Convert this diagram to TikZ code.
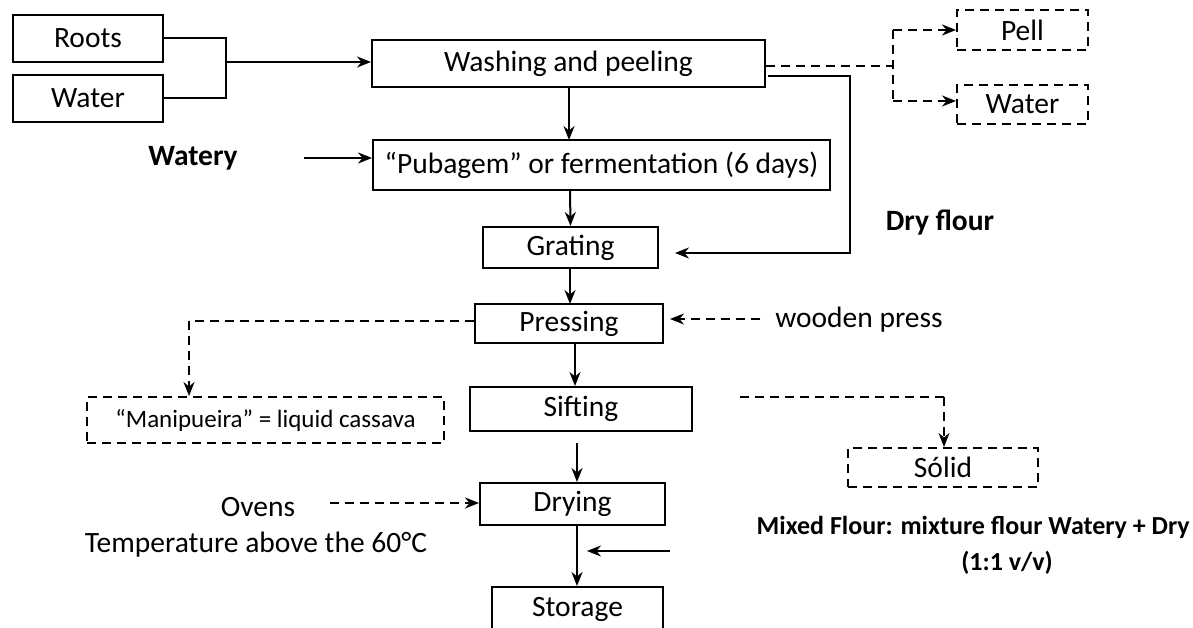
\documentclass[tikz,border=0pt]{standalone}
\usepackage{fontspec}
\setmainfont{Carlito}
\usetikzlibrary{arrows.meta}
\begin{document}
\begin{tikzpicture}[x=1pt,y=-1pt,
  box/.style={draw,line width=2pt,inner sep=0pt,font=\fontsize{29.5}{34}\selectfont},
  dbox/.style={box,dashed,dash pattern=on 9pt off 6pt},
  lbl/.style={inner sep=0pt,font=\fontsize{29.5}{34}\selectfont},
  blbl/.style={lbl,font=\fontsize{29.5}{34}\selectfont\bfseries},
  mlbl/.style={lbl,font=\fontsize{26}{31}\selectfont\bfseries},
  arr/.style={line width=2pt,-{Stealth[length=14pt,width=11pt]}},
  darr/.style={arr,dash pattern=on 9pt off 6pt},
  ln/.style={line width=2pt},
  dln/.style={line width=2pt,dash pattern=on 9pt off 6pt}]
\useasboundingbox (0,0) rectangle (1193,628);
% boxes
\node[box,minimum width=150pt,minimum height=47pt] (roots) at (88,38.5) {Roots};
\node[box,minimum width=150pt,minimum height=47pt] (water) at (88,98.5) {Water};
\node[box,minimum width=393pt,minimum height=47pt] (wash) at (568.5,63.5) {Washing and peeling};
\node[dbox,minimum width=131pt,minimum height=40pt] (pell) at (1022.5,30) {Pell};
\node[dbox,minimum width=131pt,minimum height=39pt] (water2) at (1022.5,104.5) {Water};
\node[box,minimum width=457pt,minimum height=50pt] (pub) at (601.5,165) {“Pubagem” or fermentation (6 days)};
\node[box,minimum width=175pt,minimum height=41pt] (grat) at (570.5,247.5) {Grating};
\node[box,minimum width=188pt,minimum height=39pt] (press) at (569,323.5) {Pressing};
\node[dbox,minimum width=357pt,minimum height=46pt,font=\fontsize{25}{30}\selectfont] (manip) at (265.5,420) {“Manipueira” = liquid cassava};
\node[box,minimum width=222pt,minimum height=44pt] (sift) at (581,409) {Sifting};
\node[dbox,minimum width=190pt,minimum height=39pt] (solid) at (943,467.5) {Sólid};
\node[box,minimum width=185pt,minimum height=42pt] (dry) at (572.5,504) {Drying};
\node[box,minimum width=171pt,minimum height=44pt] (stor) at (577.5,609) {Storage};
% labels
\node[blbl] (watery) at (193,158) {Watery};
\node[blbl] (dryfl) at (940,223) {Dry flour};
\node[lbl] (wooden) at (859,320) {wooden press};
\node[lbl] (ovens) at (258,507) {Ovens};
\node[lbl] (temp) at (256,545) {Temperature above the 60°C};
\node[mlbl,anchor=east] (mixed1) at (1190,527) {Mixed Flour: mixture flour Watery + Dry};
\node[mlbl] (mixed2) at (1007,563) {(1:1 v/v)};
% coordinates
\coordinate (j) at (226,62);
\coordinate (split) at (893,66);
\coordinate (dryend) at (675,253);
% connectors
\draw[ln] (roots.east) -| (j) |- (water.east);
\draw[arr] (j) -- (wash.west |- j);
\draw[dln] (wash.east |- split) -- (split);
\draw[dln] (893,30) -- (893,101);
\draw[darr] (893,30) -- (pell.west);
\draw[darr] (893,101) -- (water2.west |- 0,101);
\draw[ln,-{Stealth[length=14pt,width=11pt]}] (768,76) -- (850,76) -- (850,253) -- (dryend);
\draw[arr] (569,87) -- (569,140);
\draw[arr] (304,158) -- (pub.west |- 0,158);
\draw[arr] (570,190) -- (grat.north);
\draw[arr] (570,268) -- (570,304);
\draw[darr] (760,319) -- (670,319);
\draw[dln] (press.west |- 0,321) -- (189,321);
\draw[darr] (189,321) -- (manip.north -| 189,0);
\draw[arr] (575,343) -- (sift.north -| 575,0);
\draw[dln] (740,397) -- (944,397);
\draw[darr] (944,397) -- (solid.north -| 944,0);
\draw[arr] (577,443) -- (dry.north -| 577,0);
\draw[darr] (330,503) -- (dry.west |- 0,503);
\draw[arr] (dry.south -| 577,0) -- (stor.north -| 577,0);
\draw[arr] (670,551) -- (587,551);
\end{tikzpicture}
\end{document}
